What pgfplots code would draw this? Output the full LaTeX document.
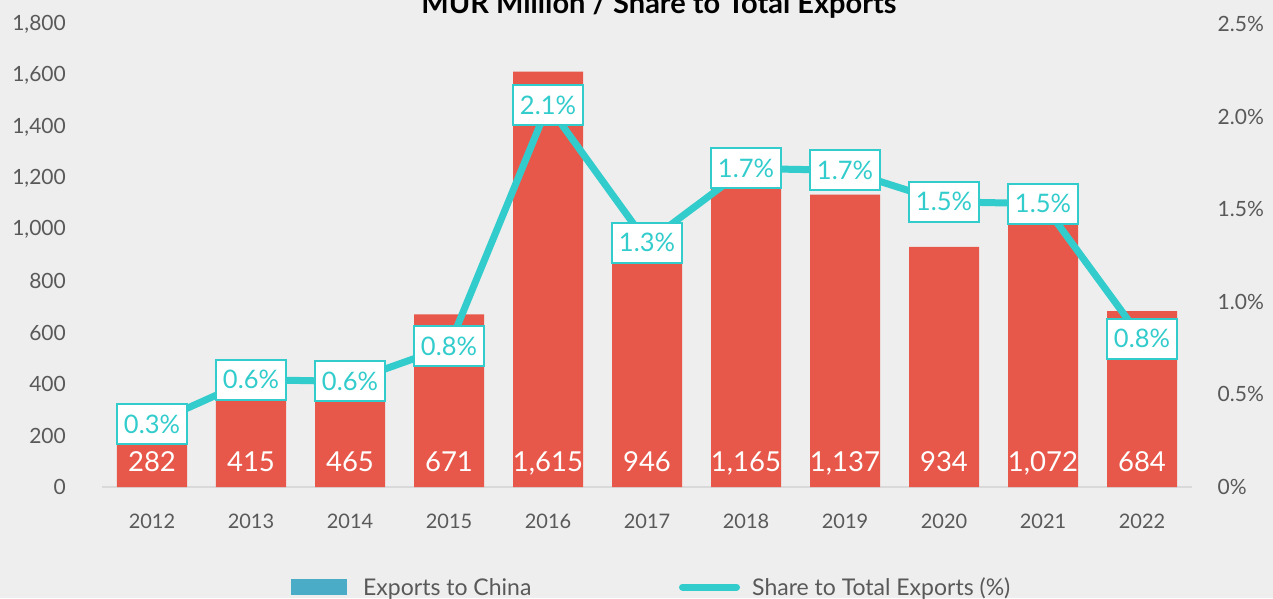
\documentclass[border=0pt]{standalone}
\usepackage{fontspec}
\setmainfont{Lato}
\usepackage{pgfplots}
\usepackage{pgfplotstable}
\pgfplotsset{compat=1.18}
\definecolor{bg}{HTML}{EEEEEE}
\definecolor{barred}{HTML}{E8584A}
\definecolor{lineclr}{HTML}{33CCCC}
\definecolor{legblue}{HTML}{4BACC8}
\definecolor{txt}{HTML}{595959}
\definecolor{basegray}{HTML}{D9D9D9}
\pgfplotsset{/pgf/number format/assume math mode=true}
\pgfplotstableread{
x v s
0 282 0.34
1 415 0.58
2 465 0.57
3 671 0.76
4 1615 2.06
5 946 1.32
6 1165 1.72
7 1137 1.71
8 934 1.54
9 1072 1.53
10 684 0.80
}\data
\pgfplotsset{myaxis/.style={
  scale only axis, width=1089pt, height=463pt,
  xmin=-0.5, xmax=10.5, ymin=0,
  axis line style={draw=none}, major tick length=0pt, tick style={draw=none},
  clip=false, scaled y ticks=false,
}}
\begin{document}
\begin{tikzpicture}
\fill[bg] (-102.5pt,-111pt) rectangle (1170.5pt,487pt);
\begin{axis}[myaxis, ymax=1800,
  ytick={0,200,400,600,800,1000,1200,1400,1600,1800},
  /pgf/number format/1000 sep={,},
  yticklabel style={anchor=east, inner sep=0pt, xshift=-36.5pt, text=txt, font=\fontsize{21}{24}\selectfont},
  xtick={0,...,10},
  xticklabels={2012,2013,2014,2015,2016,2017,2018,2019,2020,2021,2022},
  xticklabel style={anchor=north, inner sep=0pt, yshift=-27pt, text=txt, font=\fontsize{20}{24}\selectfont},
]
\draw[basegray, line width=2pt] (rel axis cs:0,0) -- (rel axis cs:1,0);
\addplot[ybar, bar width=70pt, fill=barred, draw=none] table[x=x,y=v]{\data};
\addplot[draw=none, mark=none, nodes near coords, point meta=\thisrow{v},
  every node near coord/.append style={anchor=base, yshift=16pt, text=white, inner sep=0pt, font=\fontsize{27.5}{30}\selectfont}]
  table[x=x, y expr=0]{\data};
\end{axis}
\begin{axis}[myaxis, ymax=2.5,
  yticklabel pos=right,
  ytick={0,0.5,1,1.5,2,2.5},
  yticklabels={0\%,0.5\%,1.0\%,1.5\%,2.0\%,2.5\%},
  yticklabel style={anchor=west, inner sep=0pt, xshift=26pt, text=txt, font=\fontsize{21}{24}\selectfont},
  xtick=\empty,
]
\addplot[lineclr, line width=7pt, mark=none,
  nodes near coords={\pgfmathprintnumber[fixed,fixed zerofill,precision=1]{\pgfplotspointmeta}\%},
  point meta=y,
  every node near coord/.append style={anchor=center, fill=white, draw=lineclr, line width=2pt, text=lineclr, inner sep=0pt, minimum width=70pt, minimum height=40pt, font=\fontsize{25.5}{27}\selectfont}]
  table[x=x,y=s]{\data};
\end{axis}
\node[anchor=base, font=\bfseries\fontsize{29}{32}\selectfont, text=black] at (556.5pt,473pt) {MUR Million / Share to Total Exports};
\fill[legblue] (188.5pt,-108pt) rectangle (244.5pt,-92pt);
\node[anchor=base west, inner sep=0pt, text=txt, font=\fontsize{23}{26}\selectfont] at (260.5pt,-108pt) {Exports to China};
\draw[lineclr, line width=7pt, line cap=round] (580pt,-100pt) -- (634pt,-100pt);
\node[anchor=base west, inner sep=0pt, text=txt, font=\fontsize{23}{26}\selectfont] at (649.5pt,-108pt) {Share to Total Exports (\%)};
\pgfresetboundingbox
\path[use as bounding box] (-102.5pt,-111pt) rectangle (1170.5pt,487pt);
\end{tikzpicture}
\end{document}
